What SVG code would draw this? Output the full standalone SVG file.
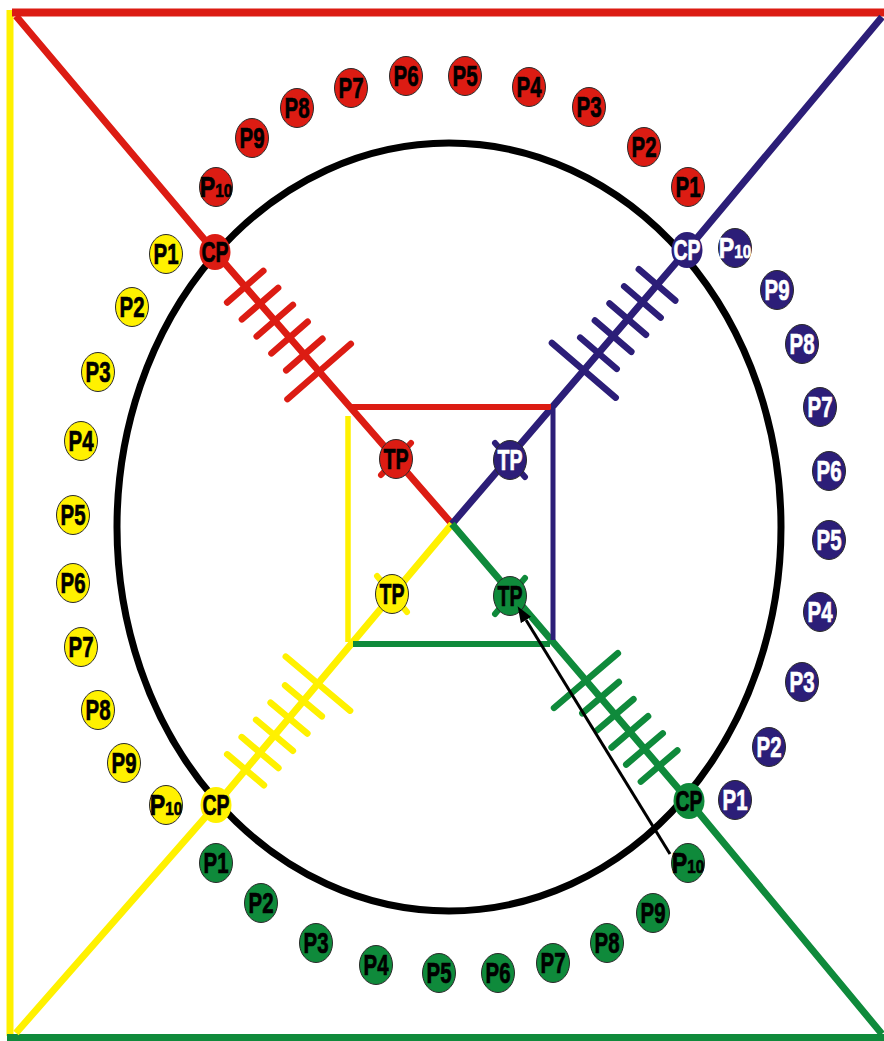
<svg xmlns="http://www.w3.org/2000/svg" xmlns:xlink="http://www.w3.org/1999/xlink" width="884" height="1041" viewBox="0 0 884 1041">
<style>
text{font-family:"Liberation Sans Narrow","Liberation Sans",Arial,sans-serif;font-weight:bold;font-size:29px;text-anchor:middle;fill:#000;stroke:#000;stroke-width:0.7px}
.r ellipse{fill:#dc1c13}
.b ellipse{fill:#2c1e78}
.y ellipse{fill:#fff100}
.g ellipse{fill:#0f8a3b}
.p ellipse{stroke:#2a2a2a;stroke-width:1}
.b text{fill:#fff;stroke:#fff}
text.ten{font-family:"Liberation Sans",Arial,sans-serif}
.sm{font-size:19px}
.ln{fill:none;stroke-linejoin:round}
.tk{stroke-width:6;stroke-linecap:round}
</style>
<defs>
<g id="ticks" stroke-width="6.5" stroke-linecap="round">
<line x1="46" y1="-24" x2="46" y2="24"/>
<line x1="68.5" y1="-24" x2="68.5" y2="24"/>
<line x1="91" y1="-24" x2="91" y2="24"/>
<line x1="113.5" y1="-24" x2="113.5" y2="24"/>
<line x1="136" y1="-24" x2="136" y2="24"/>
<line x1="158.5" y1="-42" x2="158.5" y2="42"/>
</g>
<marker id="ah" viewBox="0 -6 16 12" markerWidth="16" markerHeight="12" refX="0" refY="0" orient="auto" markerUnits="userSpaceOnUse">
<path d="M0,-6 L16,0 L0,6 z" fill="#000"/>
</marker>
</defs>
<rect width="884" height="1041" fill="#fff"/>
<g id="ring">
<ellipse cx="449" cy="527" rx="332" ry="384" fill="none" stroke="#000" stroke-width="7"/>
</g>
<g id="connectors" class="ln">
<line x1="10" y1="10" x2="10" y2="1036" stroke="#fff100" stroke-width="7"/>
<line x1="12" y1="12.5" x2="884" y2="12.5" stroke="#dc1c13" stroke-width="8"/>
<line x1="7" y1="1037.5" x2="884" y2="1037.5" stroke="#0f8a3b" stroke-width="7"/>
<polyline points="16,16 215,252 452,524" stroke="#dc1c13" stroke-width="7"/>
<polyline points="882,17 687,250 452,524" stroke="#2c1e78" stroke-width="7"/>
<polyline points="16,1033 216,805 452,524" stroke="#fff100" stroke-width="7"/>
<polyline points="882,1034 689,801 452,524" stroke="#0f8a3b" stroke-width="7"/>
<line x1="352" y1="407" x2="551" y2="407" stroke="#dc1c13" stroke-width="6"/>
<line x1="553" y1="409" x2="553" y2="640" stroke="#2c1e78" stroke-width="5"/>
<line x1="353" y1="644" x2="550" y2="644" stroke="#0f8a3b" stroke-width="6"/>
<line x1="348" y1="416" x2="348" y2="642" stroke="#fff100" stroke-width="5.5"/>
<use xlink:href="#ticks" href="#ticks" stroke="#dc1c13" transform="translate(215,252) rotate(48.93)"/>
<use xlink:href="#ticks" href="#ticks" stroke="#2c1e78" transform="translate(687,250) rotate(130.61)"/>
<use xlink:href="#ticks" href="#ticks" stroke="#0f8a3b" transform="translate(689,801) rotate(-130.55)"/>
<use xlink:href="#ticks" href="#ticks" stroke="#fff100" transform="translate(216,805) rotate(-49.97)"/>
</g>
<g id="red-p1" class="r p" transform="translate(688,187)"><ellipse rx="16.5" ry="19.5"/><text y="10" textLength="25" lengthAdjust="spacingAndGlyphs">P1</text></g>
<g id="red-p2" class="r p" transform="translate(644,147)"><ellipse rx="16.5" ry="19.5"/><text y="10" textLength="25" lengthAdjust="spacingAndGlyphs">P2</text></g>
<g id="red-p3" class="r p" transform="translate(589,107)"><ellipse rx="16.5" ry="19.5"/><text y="10" textLength="25" lengthAdjust="spacingAndGlyphs">P3</text></g>
<g id="red-p4" class="r p" transform="translate(529,87)"><ellipse rx="16.5" ry="19.5"/><text y="10" textLength="25" lengthAdjust="spacingAndGlyphs">P4</text></g>
<g id="red-p5" class="r p" transform="translate(465,76)"><ellipse rx="16.5" ry="19.5"/><text y="10" textLength="25" lengthAdjust="spacingAndGlyphs">P5</text></g>
<g id="red-p6" class="r p" transform="translate(406,76)"><ellipse rx="16.5" ry="19.5"/><text y="10" textLength="25" lengthAdjust="spacingAndGlyphs">P6</text></g>
<g id="red-p7" class="r p" transform="translate(351,88)"><ellipse rx="16.5" ry="19.5"/><text y="10" textLength="25" lengthAdjust="spacingAndGlyphs">P7</text></g>
<g id="red-p8" class="r p" transform="translate(297,108)"><ellipse rx="16.5" ry="19.5"/><text y="10" textLength="25" lengthAdjust="spacingAndGlyphs">P8</text></g>
<g id="red-p9" class="r p" transform="translate(252,138)"><ellipse rx="16.5" ry="19.5"/><text y="10" textLength="25" lengthAdjust="spacingAndGlyphs">P9</text></g>
<g id="red-p10" class="r p" transform="translate(216,187)"><ellipse rx="16.5" ry="19.5"/><text class="ten" y="10" transform="scale(0.8,1)">P<tspan class="sm">10</tspan></text></g>
<g id="blue-p1" class="b p" transform="translate(735,800)"><ellipse rx="16.5" ry="19.5"/><text y="10" textLength="25" lengthAdjust="spacingAndGlyphs">P1</text></g>
<g id="blue-p2" class="b p" transform="translate(769,747)"><ellipse rx="16.5" ry="19.5"/><text y="10" textLength="25" lengthAdjust="spacingAndGlyphs">P2</text></g>
<g id="blue-p3" class="b p" transform="translate(802,682)"><ellipse rx="16.5" ry="19.5"/><text y="10" textLength="25" lengthAdjust="spacingAndGlyphs">P3</text></g>
<g id="blue-p4" class="b p" transform="translate(820,612)"><ellipse rx="16.5" ry="19.5"/><text y="10" textLength="25" lengthAdjust="spacingAndGlyphs">P4</text></g>
<g id="blue-p5" class="b p" transform="translate(829,540)"><ellipse rx="16.5" ry="19.5"/><text y="10" textLength="25" lengthAdjust="spacingAndGlyphs">P5</text></g>
<g id="blue-p6" class="b p" transform="translate(829,471)"><ellipse rx="16.5" ry="19.5"/><text y="10" textLength="25" lengthAdjust="spacingAndGlyphs">P6</text></g>
<g id="blue-p7" class="b p" transform="translate(820,407)"><ellipse rx="16.5" ry="19.5"/><text y="10" textLength="25" lengthAdjust="spacingAndGlyphs">P7</text></g>
<g id="blue-p8" class="b p" transform="translate(802,344)"><ellipse rx="16.5" ry="19.5"/><text y="10" textLength="25" lengthAdjust="spacingAndGlyphs">P8</text></g>
<g id="blue-p9" class="b p" transform="translate(777,290)"><ellipse rx="16.5" ry="19.5"/><text y="10" textLength="25" lengthAdjust="spacingAndGlyphs">P9</text></g>
<g id="blue-p10" class="b p" transform="translate(735,248)"><ellipse rx="16.5" ry="19.5"/><text class="ten" y="10" transform="scale(0.8,1)">P<tspan class="sm">10</tspan></text></g>
<g id="yellow-p1" class="y p" transform="translate(166,254)"><ellipse rx="16.5" ry="19.5"/><text y="10" textLength="25" lengthAdjust="spacingAndGlyphs">P1</text></g>
<g id="yellow-p2" class="y p" transform="translate(132,307)"><ellipse rx="16.5" ry="19.5"/><text y="10" textLength="25" lengthAdjust="spacingAndGlyphs">P2</text></g>
<g id="yellow-p3" class="y p" transform="translate(98,372)"><ellipse rx="16.5" ry="19.5"/><text y="10" textLength="25" lengthAdjust="spacingAndGlyphs">P3</text></g>
<g id="yellow-p4" class="y p" transform="translate(81,441)"><ellipse rx="16.5" ry="19.5"/><text y="10" textLength="25" lengthAdjust="spacingAndGlyphs">P4</text></g>
<g id="yellow-p5" class="y p" transform="translate(73,515)"><ellipse rx="16.5" ry="19.5"/><text y="10" textLength="25" lengthAdjust="spacingAndGlyphs">P5</text></g>
<g id="yellow-p6" class="y p" transform="translate(73,583)"><ellipse rx="16.5" ry="19.5"/><text y="10" textLength="25" lengthAdjust="spacingAndGlyphs">P6</text></g>
<g id="yellow-p7" class="y p" transform="translate(81,647)"><ellipse rx="16.5" ry="19.5"/><text y="10" textLength="25" lengthAdjust="spacingAndGlyphs">P7</text></g>
<g id="yellow-p8" class="y p" transform="translate(98,710)"><ellipse rx="16.5" ry="19.5"/><text y="10" textLength="25" lengthAdjust="spacingAndGlyphs">P8</text></g>
<g id="yellow-p9" class="y p" transform="translate(124,763)"><ellipse rx="16.5" ry="19.5"/><text y="10" textLength="25" lengthAdjust="spacingAndGlyphs">P9</text></g>
<g id="yellow-p10" class="y p" transform="translate(166,805)"><ellipse rx="16.5" ry="19.5"/><text class="ten" y="10" transform="scale(0.8,1)">P<tspan class="sm">10</tspan></text></g>
<g id="green-p1" class="g p" transform="translate(216,863)"><ellipse rx="16.5" ry="19.5"/><text y="10" textLength="25" lengthAdjust="spacingAndGlyphs">P1</text></g>
<g id="green-p2" class="g p" transform="translate(261,903)"><ellipse rx="16.5" ry="19.5"/><text y="10" textLength="25" lengthAdjust="spacingAndGlyphs">P2</text></g>
<g id="green-p3" class="g p" transform="translate(316,943)"><ellipse rx="16.5" ry="19.5"/><text y="10" textLength="25" lengthAdjust="spacingAndGlyphs">P3</text></g>
<g id="green-p4" class="g p" transform="translate(376,965)"><ellipse rx="16.5" ry="19.5"/><text y="10" textLength="25" lengthAdjust="spacingAndGlyphs">P4</text></g>
<g id="green-p5" class="g p" transform="translate(439,973)"><ellipse rx="16.5" ry="19.5"/><text y="10" textLength="25" lengthAdjust="spacingAndGlyphs">P5</text></g>
<g id="green-p6" class="g p" transform="translate(498,973)"><ellipse rx="16.5" ry="19.5"/><text y="10" textLength="25" lengthAdjust="spacingAndGlyphs">P6</text></g>
<g id="green-p7" class="g p" transform="translate(553,963)"><ellipse rx="16.5" ry="19.5"/><text y="10" textLength="25" lengthAdjust="spacingAndGlyphs">P7</text></g>
<g id="green-p8" class="g p" transform="translate(607,943)"><ellipse rx="16.5" ry="19.5"/><text y="10" textLength="25" lengthAdjust="spacingAndGlyphs">P8</text></g>
<g id="green-p9" class="g p" transform="translate(653,913)"><ellipse rx="16.5" ry="19.5"/><text y="10" textLength="25" lengthAdjust="spacingAndGlyphs">P9</text></g>
<g id="green-p10" class="g p" transform="translate(688,863)"><ellipse rx="16.5" ry="19.5"/><text class="ten" y="10" transform="scale(0.8,1)">P<tspan class="sm">10</tspan></text></g>
<g id="red-cp" class="r" transform="translate(215,252)"><ellipse rx="15.5" ry="18"/><text y="10" textLength="27" lengthAdjust="spacingAndGlyphs">CP</text></g>
<g id="blue-cp" class="b" transform="translate(687,250)"><ellipse rx="15.5" ry="18"/><text y="10" textLength="27" lengthAdjust="spacingAndGlyphs">CP</text></g>
<g id="yellow-cp" class="y" transform="translate(216,805)"><ellipse rx="15.5" ry="18"/><text y="10" textLength="27" lengthAdjust="spacingAndGlyphs">CP</text></g>
<g id="green-cp" class="g" transform="translate(689,801)"><ellipse rx="15.5" ry="18"/><text y="10" textLength="27" lengthAdjust="spacingAndGlyphs">CP</text></g>
<g id="red-tp" class="r p" transform="translate(396,459)"><line class="tk" x1="-15" y1="16" x2="15" y2="-16" stroke="#dc1c13"/><ellipse rx="16.5" ry="19.5"/><text y="10" textLength="25" lengthAdjust="spacingAndGlyphs">TP</text></g>
<g id="blue-tp" class="b p" transform="translate(510,460)"><line class="tk" x1="-15" y1="-17" x2="15" y2="17" stroke="#2c1e78"/><ellipse rx="16.5" ry="19.5"/><text y="10" textLength="25" lengthAdjust="spacingAndGlyphs">TP</text></g>
<g id="yellow-tp" class="y p" transform="translate(392,594)"><line class="tk" x1="-15" y1="-18" x2="15" y2="18" stroke="#fff100"/><ellipse rx="16.5" ry="19.5"/><text y="10" textLength="25" lengthAdjust="spacingAndGlyphs">TP</text></g>
<g id="green-tp" class="g p" transform="translate(510,596)"><line class="tk" x1="15" y1="-18" x2="-15" y2="18" stroke="#0f8a3b"/><ellipse rx="16.5" ry="19.5"/><text y="10" textLength="25" lengthAdjust="spacingAndGlyphs">TP</text></g>
<g id="arrow-connector">
<line x1="670" y1="854" x2="526" y2="620" stroke="#000" stroke-width="3" marker-end="url(#ah)"/>
</g>
</svg>
